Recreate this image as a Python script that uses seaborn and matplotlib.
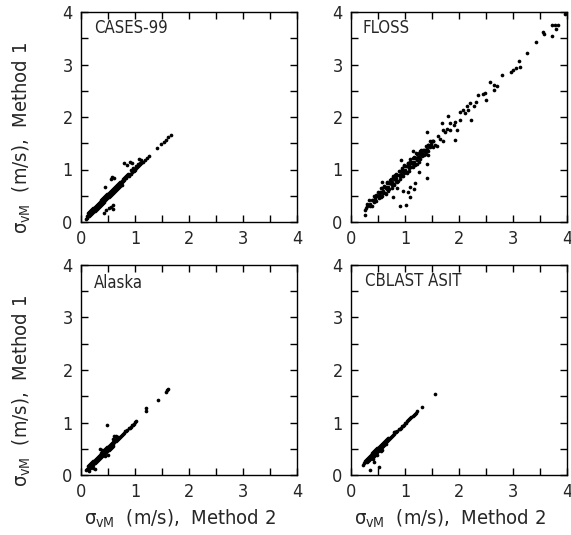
import matplotlib
matplotlib.use("Agg")
import matplotlib.pyplot as plt
from matplotlib import font_manager
from matplotlib.ticker import MultipleLocator
import seaborn as sns

# ---------------- data ----------------
panel_names = ["CASES-99", "FLOSS", "Alaska", "CBLAST ASIT"]
tick_values = [0, 1, 2, 3, 4]

cases_x = [0.12,0.14,0.16,0.18,0.20,0.22,0.24,0.26,0.28,0.30,0.32,0.34,0.36,0.38,0.40,0.42,0.44,0.46,0.48,0.50,
           0.52,0.54,0.56,0.58,0.60,0.62,0.64,0.66,0.68,0.70,0.72,0.74,0.76,0.78,0.80,0.82,0.84,0.86,0.88,0.90,
           0.13,0.15,0.17,0.19,0.21,0.23,0.25,0.27,0.29,0.31,0.33,0.35,0.37,0.39,0.41,0.43,0.45,0.47,0.49,0.51,
           0.53,0.55,0.57,0.59,0.61,0.63,0.65,0.67,0.69,0.71,0.73,0.75,0.77,0.79,0.81,0.83,0.85,0.87,
           0.15,0.17,0.19,0.21,0.23,0.25,0.27,0.29,0.31,0.33,0.35,0.37,0.39,0.41,0.43,0.45,0.47,0.49,0.51,0.53,
           0.55,0.57,0.59,0.61,0.63,0.65,0.67,0.69,0.71,0.73,0.75,
           0.92,0.94,0.96,0.98,1.00,1.02,1.04,1.06,1.08,1.10,1.12,1.15,1.18,1.22,1.25,1.41,1.48,1.53,1.57,1.62,1.67,
           0.93,0.97,1.01,1.05,1.09,0.80,0.85,0.91,0.95,1.08,1.12,0.44,0.55,0.58,0.62,
           0.42,0.47,0.52,0.55,0.59,0.60,0.10,0.12]
cases_y = [0.12,0.15,0.16,0.19,0.20,0.23,0.24,0.27,0.28,0.31,0.32,0.35,0.36,0.39,0.40,0.43,0.44,0.47,0.48,0.51,
           0.52,0.55,0.56,0.59,0.60,0.63,0.64,0.67,0.68,0.71,0.72,0.75,0.76,0.79,0.80,0.83,0.84,0.87,0.88,0.91,
           0.17,0.19,0.21,0.23,0.25,0.27,0.29,0.31,0.33,0.35,0.37,0.39,0.41,0.43,0.45,0.47,0.49,0.51,0.53,0.55,
           0.57,0.59,0.61,0.63,0.65,0.67,0.69,0.71,0.73,0.75,0.77,0.79,0.81,0.83,0.85,0.87,0.89,0.91,
           0.11,0.13,0.15,0.17,0.19,0.21,0.23,0.25,0.27,0.29,0.31,0.33,0.35,0.37,0.39,0.41,0.43,0.45,0.47,0.49,
           0.51,0.53,0.55,0.57,0.59,0.61,0.63,0.65,0.67,0.69,0.71,
           0.92,0.95,0.97,0.98,1.00,1.03,1.04,1.06,1.09,1.10,1.13,1.15,1.19,1.22,1.26,1.41,1.48,1.53,1.57,1.62,1.66,
           0.99,1.02,1.06,1.10,1.13,1.12,1.08,1.15,1.13,1.20,1.18,0.67,0.82,0.85,0.83,
           0.18,0.22,0.26,0.29,0.33,0.25,0.05,0.08]

floss_x = [0.30,0.34,0.38,0.42,0.46,0.50,0.54,0.58,0.62,0.66,0.70,0.74,0.78,0.82,0.86,0.90,0.94,0.98,1.02,1.06,
           1.10,1.14,1.18,1.22,1.26,1.30,1.34,1.38,1.42,1.46,1.50,
           0.32,0.36,0.40,0.44,0.48,0.52,0.56,0.60,0.64,0.68,0.72,0.76,0.80,0.84,0.88,0.92,0.96,1.00,1.04,1.08,
           1.12,1.16,1.20,1.24,1.28,1.32,1.36,1.40,1.44,1.48,1.52,
           0.35,0.39,0.43,0.47,0.51,0.55,0.59,0.63,0.67,0.71,0.75,0.79,0.83,0.87,0.91,0.95,0.99,1.03,1.07,1.11,
           1.15,1.19,1.23,1.27,1.31,1.35,1.39,1.43,1.47,1.51,
           0.55,0.61,0.66,0.72,0.77,0.83,0.88,0.94,0.99,1.05,1.10,1.16,1.21,1.27,
           0.58,0.64,0.69,0.75,0.80,0.86,0.91,0.97,1.03,1.08,1.14,1.19,1.25,
           0.45,0.53,0.65,0.73,0.81,0.89,0.97,1.05,1.13,1.21,1.29,1.37,
           3.96,3.72,3.77,3.83,3.80,3.72,3.56,3.58,3.43,3.26,3.11,3.13,3.05,3.00,2.97,2.79,2.58,2.64,2.70,2.64,
           2.36,2.44,2.48,2.50,2.31,2.20,2.27,2.14,2.17,2.08,2.02,2.11,2.22,2.02,1.80,1.83,1.93,1.90,1.97,1.77,
           1.83,1.71,1.74,1.68,1.93,1.40,1.62,1.65,1.70,1.52,1.49,1.43,1.56,1.60,1.41,1.37,1.39,1.43,1.41,1.15,
           1.25,1.22,1.25,0.92,0.57,
           1.40,1.19,1.09,1.06,1.09,0.96,1.02,0.91,0.78,1.17,0.85,
           0.26,0.26,0.29,0.27]
floss_y = [0.35,0.42,0.42,0.49,0.51,0.58,0.58,0.65,0.67,0.74,0.74,0.81,0.83,0.90,0.90,0.97,0.99,1.06,1.06,1.13,
           1.15,1.22,1.22,1.29,1.31,1.38,1.38,1.45,1.47,1.54,1.54,
           0.33,0.35,0.42,0.44,0.49,0.51,0.58,0.60,0.65,0.67,0.74,0.76,0.81,0.83,0.90,0.92,0.97,0.99,1.06,1.08,
           1.13,1.15,1.22,1.24,1.29,1.31,1.38,1.40,1.45,1.47,1.54,
           0.30,0.31,0.39,0.40,0.46,0.47,0.55,0.56,0.62,0.63,0.71,0.72,0.78,0.79,0.87,0.88,0.94,0.95,1.03,1.04,
           1.10,1.11,1.19,1.20,1.26,1.27,1.35,1.36,1.42,1.43,
           0.64,0.69,0.76,0.80,0.87,0.91,0.98,1.02,1.09,1.13,1.20,1.24,1.31,1.35,
           0.49,0.54,0.60,0.65,0.70,0.76,0.81,0.87,0.93,0.98,1.04,1.09,1.15,
           0.47,0.55,0.66,0.74,0.82,0.90,0.98,1.06,1.14,1.22,1.30,1.38,
           3.97,3.75,3.75,3.75,3.67,3.55,3.62,3.58,3.42,3.22,3.07,2.96,2.93,2.90,2.86,2.80,2.67,2.61,2.59,2.51,
           2.42,2.43,2.45,2.33,2.29,2.26,2.20,2.20,2.13,2.13,2.10,2.07,1.94,1.94,2.01,1.89,1.91,1.85,1.75,1.78,
           1.75,1.75,1.72,1.88,1.56,1.72,1.63,1.59,1.55,1.55,1.49,1.46,1.46,1.45,1.38,1.34,1.30,1.28,1.11,1.36,
           1.24,1.11,0.96,1.18,0.77,
           0.83,0.74,0.67,0.58,0.47,0.60,0.33,0.30,0.48,0.62,0.65,
           0.22,0.13,0.31,0.27]

alaska_x = [0.10,0.12,0.14,0.16,0.18,0.20,0.22,0.24,0.26,0.28,0.30,0.32,0.34,0.36,0.38,0.40,0.42,0.44,0.46,0.48,
            0.50,0.52,0.54,0.56,0.58,0.60,0.62,0.64,0.66,0.68,0.70,0.72,0.74,0.76,0.78,0.80,0.82,0.84,0.86,0.88,
            0.90,0.92,0.94,0.96,0.98,1.00,1.02,
            0.13,0.15,0.17,0.19,0.21,0.23,0.25,0.27,0.29,0.31,0.33,0.35,0.37,0.39,0.41,0.43,0.45,0.47,0.49,0.51,
            0.53,0.55,0.57,0.59,0.61,0.63,0.65,0.67,0.69,
            0.15,0.17,0.19,0.21,0.23,0.25,0.27,0.29,0.31,0.33,0.35,0.37,0.39,0.41,0.43,0.45,0.47,0.49,0.51,0.53,
            0.55,0.57,0.59,
            0.48,0.25,0.22,0.35,0.38,0.45,0.50,0.62,0.65,0.60,1.20,1.20,1.42,1.57,1.60,1.62,0.15]
alaska_y = [0.10,0.12,0.14,0.17,0.18,0.20,0.23,0.24,0.26,0.29,0.30,0.32,0.35,0.36,0.38,0.41,0.42,0.44,0.47,0.48,
            0.50,0.53,0.54,0.56,0.59,0.60,0.62,0.65,0.66,0.68,0.71,0.72,0.74,0.77,0.78,0.80,0.83,0.84,0.86,0.89,
            0.90,0.92,0.95,0.96,0.98,1.01,1.02,
            0.17,0.19,0.21,0.23,0.25,0.27,0.29,0.31,0.33,0.35,0.37,0.39,0.41,0.43,0.45,0.47,0.49,0.51,0.53,0.55,
            0.57,0.59,0.61,0.63,0.65,0.67,0.69,0.71,0.73,
            0.12,0.14,0.16,0.18,0.20,0.22,0.24,0.26,0.28,0.30,0.32,0.34,0.36,0.38,0.40,0.42,0.44,0.46,0.48,0.50,
            0.52,0.54,0.56,
            0.95,0.12,0.13,0.50,0.48,0.36,0.38,0.74,0.75,0.68,1.22,1.27,1.43,1.58,1.61,1.63,0.08]

cblast_x = [0.22,0.24,0.26,0.28,0.30,0.32,0.34,0.36,0.38,0.40,0.42,0.44,0.46,0.48,0.50,0.52,0.54,0.56,0.58,0.60,
            0.62,0.64,0.66,0.68,0.70,0.72,0.74,0.76,0.78,0.80,0.82,0.84,0.86,0.88,0.90,0.92,0.94,0.96,0.98,1.00,
            1.02,1.04,1.06,1.08,1.10,1.12,1.14,1.16,1.18,1.20,1.22,
            0.25,0.27,0.29,0.31,0.33,0.35,0.37,0.39,0.41,0.43,0.45,0.47,0.49,0.51,0.53,0.55,0.57,0.59,0.61,0.63,
            0.65,0.67,0.69,0.79,0.81,
            0.30,0.32,0.34,0.36,0.38,0.40,0.42,0.44,0.46,0.48,0.50,0.52,0.54,0.56,0.58,0.60,0.62,0.64,
            0.35,0.52,0.42,0.48,0.55,0.58,0.45,1.32,1.55,0.40]
cblast_y = [0.20,0.22,0.24,0.27,0.28,0.30,0.33,0.34,0.36,0.39,0.40,0.42,0.45,0.46,0.48,0.51,0.52,0.54,0.57,0.58,
            0.60,0.63,0.64,0.66,0.69,0.70,0.72,0.75,0.76,0.78,0.81,0.82,0.84,0.87,0.88,0.90,0.93,0.94,0.96,0.99,
            1.00,1.02,1.05,1.06,1.08,1.11,1.12,1.14,1.17,1.18,1.21,
            0.27,0.29,0.31,0.33,0.35,0.37,0.39,0.41,0.43,0.45,0.47,0.49,0.51,0.53,0.55,0.57,0.59,0.61,0.63,0.65,
            0.67,0.69,0.71,0.81,0.82,
            0.25,0.27,0.29,0.31,0.33,0.35,0.37,0.39,0.41,0.43,0.45,0.47,0.49,0.51,0.53,0.55,0.57,0.59,
            0.10,0.15,0.25,0.38,0.45,0.48,0.40,1.30,1.55,0.30]

panel_x = [cases_x, floss_x, alaska_x, cblast_x]
panel_y = [cases_y, floss_y, alaska_y, cblast_y]

# ---------------- fonts: prefer a condensed sans if one exists ----------------
sns.set_style("ticks")
entries = font_manager.fontManager.ttflist
family = "Liberation Sans"
stretch = "normal"
narrow = False
for pref in ["Liberation Sans Narrow", "DejaVu Sans", "Noto Sans", "Roboto", "Open Sans"]:
    hits = [f for f in entries if f.name == pref and str(f.stretch) in
            ("condensed", "semi-condensed", "extra-condensed", "ultra-condensed")]
    if hits or (pref == "Liberation Sans Narrow" and any(f.name == pref for f in entries)):
        family = pref
        stretch = "condensed" if hits else "normal"
        narrow = True
        break
plt.rcParams['font.family'] = [family, 'DejaVu Sans']
plt.rcParams['font.stretch'] = stretch
plt.rcParams['mathtext.fontset'] = 'custom'
spec = family if stretch == "normal" else family + ":stretch=condensed"
plt.rcParams['mathtext.rm'] = spec
plt.rcParams['mathtext.it'] = spec

tick_fs = 13 if narrow else 12
name_fs = 12 if narrow else 11
lab_fs = 14.5 if narrow else 13

W, H = 571, 535
fig = plt.figure(figsize=(W / 100, H / 100), dpi=100)
fig.patch.set_facecolor("white")

boxes = [(81, 12), (351, 12), (81, 265), (351, 265)]
aw, ah = 216, 210
label_pos = [(0.06, 0.925), (0.055, 0.925), (0.06, 0.915), (0.065, 0.925)]

ylab = r"$\sigma_{\rm vM}$  (m/s),  Method 1"
xlab = r"$\sigma_{\rm vM}$  (m/s),  Method 2"

for i, (l, t) in enumerate(boxes):
    ax = fig.add_axes([l / W, 1 - (t + ah) / H, aw / W, ah / H])
    sns.scatterplot(x=panel_x[i], y=panel_y[i], ax=ax, color="black", s=7,
                    linewidth=0, marker="o")
    ax.set_xlim(0, 4)
    ax.set_ylim(0, 4)
    ax.set_xticks(tick_values)
    ax.set_yticks(tick_values)
    ax.xaxis.set_minor_locator(MultipleLocator(0.5))
    ax.yaxis.set_minor_locator(MultipleLocator(0.5))
    ax.tick_params(which="both", direction="in", top=True, right=True,
                   length=5, width=1, color="black")
    ax.tick_params(which="major", labelsize=tick_fs, pad=6)
    for sp in ax.spines.values():
        sp.set_visible(True)
        sp.set_linewidth(1.0)
        sp.set_color("black")
    ax.set_facecolor("white")
    ax.text(label_pos[i][0], label_pos[i][1], panel_names[i], transform=ax.transAxes,
            ha="left", va="center", fontsize=name_fs)
    if i in (0, 2):
        ax.set_ylabel(ylab, fontsize=lab_fs)
        ax.yaxis.set_label_coords(-0.22, 0.40)
    else:
        ax.set_ylabel("")
    if i in (2, 3):
        ax.set_xlabel(xlab, fontsize=lab_fs)
        ax.xaxis.set_label_coords(0.456, -0.155)
    else:
        ax.set_xlabel("")

fig.savefig("out.png", dpi=100)
